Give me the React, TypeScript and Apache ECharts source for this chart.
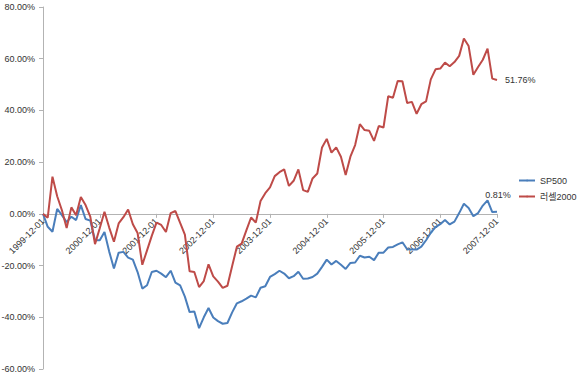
import React, { useEffect, useRef } from "react";
import * as echarts from "echarts";

// Monthly dates 1999-12-01 .. 2007-12-01 (97 points)
const categories: string[] = (() => {
  const out: string[] = [];
  let y = 1999;
  let m = 12;
  for (let k = 0; k < 97; k++) {
    out.push(`${y}-${String(m).padStart(2, "0")}-01`);
    m += 1;
    if (m > 12) {
      m = 1;
      y += 1;
    }
  }
  return out;
})();

const seriesNames = ["SP500", "러셀2000"];

const sp500: number[] = [
  0, -5.0, -6.9, 1.9, -0.5, -3.2, -1.1, -2.4, 3.4, -2.0, -2.6, -10.2,
  -10.2, -7.0, -14.6, -21.1, -15.0, -14.7, -16.9, -17.7, -22.5, -28.9, -27.6, -22.5,
  -22.0, -23.1, -24.5, -22.0, -26.6, -27.7, -32.0, -38.0, -37.8, -44.2, -40.0, -36.4,
  -40.1, -41.5, -42.5, -42.2, -38.1, -34.6, -33.8, -32.8, -31.6, -32.3, -28.6, -28.0,
  -24.4, -23.3, -22.0, -23.1, -24.9, -24.1, -22.4, -25.1, -25.0, -24.4, -23.1, -20.5,
  -17.7, -19.6, -18.2, -19.7, -21.3, -19.0, -18.8, -16.2, -16.9, -16.6, -17.9, -15.0,
  -15.0, -13.0, -12.8, -11.8, -11.0, -13.7, -13.8, -13.8, -12.7, -10.2, -7.3, -5.1,
  -4.0, -2.4, -4.1, -3.0, 0.3, 3.9, 2.3, -0.9, 0.3, 3.2, 5.2, 0.7,
  0.81,
];

const russell2000: number[] = [
  0, -1.5, 14.4, 6.8, 1.4, -5.5, 2.5, -0.5, 6.5, 3.4, -1.1, -11.7,
  -5.6, 0.8, -5.3, -10.8, -3.7, -1.3, 1.7, -4.0, -7.4, -19.7, -14.1, -8.5,
  -3.4, -4.3, -7.0, 0.3, 1.1, -3.5, -8.0, -22.2, -22.5, -28.3, -26.0, -19.5,
  -24.2, -26.2, -28.6, -27.8, -20.2, -12.7, -11.5, -6.4, -1.4, -3.4, 5.0, 8.0,
  10.2, 14.6, 16.1, 17.2, 10.8, 12.8, 17.2, 9.2, 8.5, 13.7, 15.6, 25.7,
  29.0, 23.7, 25.7, 22.1, 15.0, 22.1, 26.6, 34.7, 32.4, 32.1, 28.2, 34.0,
  33.4, 45.5, 44.9, 51.4, 51.3, 42.9, 43.3, 38.7, 42.4, 43.5, 52.0, 55.9,
  56.2, 58.5, 57.1, 58.7, 61.1, 67.8, 64.9, 53.8, 56.8, 59.6, 63.9, 52.3,
  51.76,
];

const yMin = -60;
const yMax = 80;
const yInterval = 20;

const FONT = "'Liberation Sans', 'Noto Sans CJK KR', sans-serif";
const TEXT = "#333333";

const GRID_TOP = 7;
const GRID_BOTTOM = 6;
const CHART_H = 375;

export default function App() {
  const ref = useRef<HTMLDivElement>(null);

  useEffect(() => {
    if (!ref.current) return;
    const chart = echarts.init(ref.current, undefined, { renderer: "svg" });
    const pct = (v: number) => Number(v).toFixed(2) + "%";
    // place the category axis on the zero line of the value scale
    const plotH = CHART_H - GRID_TOP - GRID_BOTTOM;
    const zeroOffset = -(plotH * (0 - yMin)) / (yMax - yMin);
    chart.setOption({
      animation: false,
      backgroundColor: "#ffffff",
      textStyle: { fontFamily: FONT },
      grid: {
        left: 43,
        right: 83,
        top: GRID_TOP,
        bottom: GRID_BOTTOM,
        containLabel: false,
        outerBoundsMode: "none",
      },
      legend: {
        orient: "vertical",
        left: 513,
        top: 171,
        itemWidth: 16,
        itemHeight: 2,
        itemGap: 7,
        data: seriesNames,
        textStyle: { fontFamily: FONT, fontSize: 9, color: TEXT },
      },
      xAxis: {
        type: "category",
        data: categories,
        boundaryGap: false,
        offset: zeroOffset,
        axisLine: { onZero: false, lineStyle: { color: "#b3b3b3", width: 1 } },
        axisTick: { show: true, interval: 11, length: 4, lineStyle: { color: "#b3b3b3" } },
        axisLabel: {
          interval: 11,
          rotate: 45,
          margin: 6,
          fontFamily: FONT,
          fontSize: 9,
          color: TEXT,
        },
        splitLine: { show: false },
      },
      yAxis: {
        type: "value",
        min: yMin,
        max: yMax,
        interval: yInterval,
        axisLine: { show: true, lineStyle: { color: "#b3b3b3", width: 1 } },
        axisTick: { show: true, length: 4, lineStyle: { color: "#b3b3b3" } },
        axisLabel: {
          formatter: (v: number) => pct(v),
          fontFamily: FONT,
          fontSize: 9,
          color: TEXT,
          margin: 8,
        },
        splitLine: { show: false },
      },
      series: [
        {
          name: seriesNames[0],
          type: "line",
          data: sp500,
          symbol: "none",
          color: "#4A7EBB",
          lineStyle: { width: 2, color: "#4A7EBB" },
          endLabel: {
            show: true,
            formatter: (p: any) => pct(p.value),
            fontFamily: FONT,
            fontSize: 9,
            color: TEXT,
            align: "center",
            verticalAlign: "middle",
            offset: [-7, -17],
          },
        },
        {
          name: seriesNames[1],
          type: "line",
          data: russell2000,
          symbol: "none",
          color: "#BE4B48",
          lineStyle: { width: 2, color: "#BE4B48" },
          endLabel: {
            show: true,
            formatter: (p: any) => pct(p.value),
            fontFamily: FONT,
            fontSize: 9,
            color: TEXT,
            distance: 8,
          },
        },
      ],
    });
    return () => chart.dispose();
  }, []);

  return (
    <div
      ref={ref}
      style={{ position: "absolute", left: 0, top: 0, width: 580, height: 375 }}
    />
  );
}
